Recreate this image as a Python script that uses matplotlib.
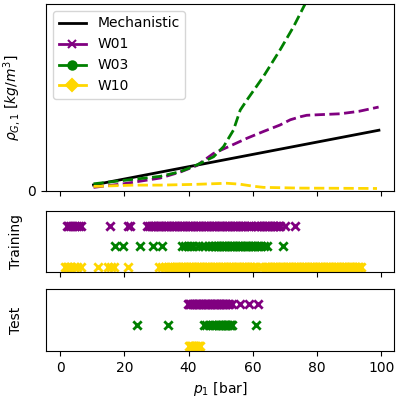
import matplotlib
matplotlib.use("Agg")
import matplotlib.pyplot as plt
from matplotlib.lines import Line2D

# ---- top panel: density curves ----
mech_p = [10.4, 99.3]
mech_rho = [0.031, 0.324]

w01_p = [10.4, 19.7, 31.2, 37.4, 42.6, 47.8, 53.0, 58.2, 63.3, 68.5, 71.7, 74.8, 76.8, 80.5, 87.2, 93.0, 99.2]
w01_rho = [0.018, 0.037, 0.068, 0.10, 0.135, 0.20, 0.24, 0.281, 0.317, 0.352, 0.38, 0.396, 0.404, 0.407, 0.412, 0.425, 0.448]

w03_p = [10.4, 19.7, 31.2, 37.4, 42.6, 47.8, 50.9, 54.0, 56.1, 58.2, 63.3, 68.5, 72.7, 76.3, 85.0, 99.2]
w03_rho = [0.037, 0.055, 0.077, 0.102, 0.138, 0.182, 0.236, 0.325, 0.432, 0.486, 0.611, 0.754, 0.878, 1.0, 1.3, 1.8]

w10_p = [10.4, 22.8, 31.2, 42.0, 51.9, 56.0, 60.2, 63.3, 74.8, 88.0, 98.7]
w10_rho = [0.023, 0.030, 0.030, 0.034, 0.040, 0.035, 0.024, 0.018, 0.014, 0.013, 0.012]

# ---- training samples ----
train_w01 = [2.0, 2.6, 3.2, 3.8, 4.6, 5.2, 5.8, 6.6, 15.6, 21.2, 21.9,
             27.2, 27.7, 28.2, 28.7, 29.2, 29.7, 30.2, 30.7, 31.2, 31.7, 32.2, 32.7,
             33.2, 33.7, 34.2, 34.7, 35.2, 35.7, 36.2, 36.7, 37.2, 37.7, 38.2, 38.7,
             39.2, 39.7, 40.2, 40.7, 41.2, 41.7, 42.2, 42.7, 43.2, 43.7, 44.2, 44.7,
             45.2, 45.7, 46.2, 46.7, 47.2, 47.7, 48.2, 48.7, 49.2, 49.7, 50.2, 50.7,
             51.2, 51.7, 52.2, 52.7, 53.2, 53.7, 54.2, 54.7, 55.2, 55.7, 56.2, 56.7,
             57.2, 57.7, 58.2, 58.7, 59.3, 60.7, 61.2, 61.7, 62.2, 62.7, 63.2, 63.7,
             64.2, 64.7, 65.2, 65.7, 66.2, 66.7, 67.2, 67.7, 68.2, 68.6, 69.9, 73.1]
train_w03 = [17.1, 19.7, 24.9, 28.8, 31.6, 37.9, 39.0, 39.8, 40.6, 41.4, 42.8, 44.2,
             45.0, 46.3, 47.2, 47.8, 48.3, 48.8, 49.3, 49.8, 50.3, 50.8, 51.3, 51.8,
             52.3, 52.8, 53.3, 53.8, 54.3, 54.8, 55.3, 55.8, 56.3, 56.8, 57.3, 57.8,
             58.3, 58.8, 59.3, 59.8, 60.3, 60.8, 61.3, 61.8, 62.6, 63.4, 64.5, 69.3]
train_w10 = [1.5, 2.0, 2.5, 3.0, 3.5, 4.2, 5.2, 6.5, 11.9, 14.8, 15.8, 16.8, 21.2,
             30.7, 31.6, 32.6, 33.5, 34.3, 35.0, 35.5, 36.0, 36.5, 37.0, 37.5, 38.0,
             38.5, 39.0, 39.5, 40.0, 40.5, 41.0, 41.5, 42.0, 42.5, 43.0, 43.5, 44.0,
             44.5, 45.0, 45.5, 46.0, 46.5, 47.0, 47.5, 48.0, 48.5, 49.0, 49.5, 50.0,
             50.5, 51.0, 51.5, 52.0, 52.5, 53.0, 53.5, 54.0, 54.5, 55.0, 55.5, 56.0,
             56.5, 57.0, 57.5, 58.0, 58.5, 59.0, 59.5, 60.0, 60.5, 61.1, 62.5, 63.7,
             64.2, 64.7, 65.2, 65.7, 66.2, 66.7, 67.2, 67.7, 68.2, 68.7, 69.2, 69.7,
             70.2, 70.7, 71.2, 71.7, 72.2, 72.7, 73.2, 73.7, 74.2, 74.7, 75.2, 75.7,
             76.2, 76.7, 77.2, 77.7, 78.2, 78.7, 79.2, 79.7, 80.2, 80.7, 81.2, 81.7,
             82.2, 82.7, 83.2, 83.7, 84.2, 84.7, 85.2, 85.7, 86.2, 86.7, 87.2, 87.7,
             88.2, 88.7, 89.2, 89.7, 90.2, 90.7, 91.2, 91.7, 92.2, 92.7, 93.2, 93.6]

# ---- test samples ----
test_w01 = [39.8, 40.2, 40.6, 41.0, 41.4, 41.8, 42.2, 42.6, 43.0, 43.4, 43.8, 44.2,
            44.6, 45.0, 45.4, 45.8, 46.2, 46.6, 47.0, 47.4, 47.8, 48.2, 48.6, 49.0,
            49.4, 49.8, 50.2, 50.6, 51.0, 51.4, 51.8, 52.2, 52.6, 53.6, 56.1, 58.7, 61.5]
test_w03 = [23.9, 33.5, 44.8, 45.5, 46.5, 47.3, 48.0, 48.6, 49.2, 49.6, 50.0, 50.4,
            50.8, 51.2, 51.6, 52.0, 52.4, 52.8, 53.2, 53.6, 61.0]
test_w10 = [40.0, 40.4, 40.8, 41.2, 41.6, 42.0, 42.4, 42.8, 43.2, 43.5]

wells = ["W01", "W03", "W10"]
colors = ["purple", "green", "gold"]
handle_markers = ["x", "o", "D"]
levels = [2, 1, 0]

fig = plt.figure(figsize=(3.99, 3.99), dpi=100)
ax1 = fig.add_axes([0.1153, 0.522, 0.8722, 0.468])
ax2 = fig.add_axes([0.1153, 0.3175, 0.8722, 0.1545])
ax3 = fig.add_axes([0.1153, 0.120, 0.8722, 0.1557])

ax1.plot(mech_p, mech_rho, color="black", lw=2)
for p, r, c in zip([w01_p, w03_p, w10_p], [w01_rho, w03_rho, w10_rho], colors):
    ax1.plot(p, r, color=c, ls="--", lw=2)
ax1.set_ylim(0, 1.0)
ax1.set_yticks([0])
ax1.set_ylabel(r"$\rho_{G,1}\ [kg/m^3]$")

handles = [Line2D([0], [0], color="black", lw=2)]
for c, m in zip(colors, handle_markers):
    handles.append(Line2D([0], [0], color=c, ls="-", lw=2, marker=m, markersize=6,
                          markeredgewidth=1.5))
ax1.legend(handles, ["Mechanistic"] + wells, loc="upper left")

for vals, c, lv in zip([train_w01, train_w03, train_w10], colors, levels):
    ax2.scatter(vals, [lv] * len(vals), marker="x", color=c, s=36, linewidths=2)
for vals, c, lv in zip([test_w01, test_w03, test_w10], colors, levels):
    ax3.scatter(vals, [lv] * len(vals), marker="x", color=c, s=36, linewidths=2)

for ax in (ax2, ax3):
    ax.set_yticks([])
    ax.set_ylim(-0.27, 2.72)
ax2.set_ylabel("Training")
ax3.set_ylabel("Test")

for ax in (ax1, ax2, ax3):
    ax.set_xlim(-4.4, 104.0)
    ax.set_xticks([0, 20, 40, 60, 80, 100])
    ax.yaxis.set_label_coords(-0.066, 0.5)
ax1.set_xticklabels([])
ax2.set_xticklabels([])
ax3.set_xlabel(r"$p_1$ [bar]")

fig.savefig("out.png", dpi=100)
